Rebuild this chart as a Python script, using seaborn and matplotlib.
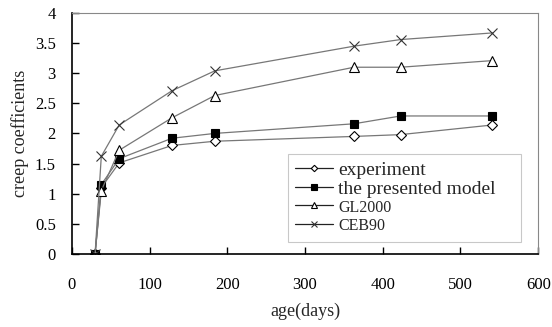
import seaborn as sns
import matplotlib.pyplot as plt
import pandas as pd

# ages (days) and creep coefficients
age = [30, 38, 61, 129, 184, 363, 423, 541]
experiment = [0, 1.10, 1.51, 1.80, 1.87, 1.95, 1.98, 2.14]
presented = [0, 1.15, 1.58, 1.92, 2.00, 2.16, 2.29, 2.29]
gl2000 = [0, 1.05, 1.72, 2.26, 2.63, 3.10, 3.10, 3.21]
ceb90 = [0, 1.62, 2.14, 2.71, 3.04, 3.45, 3.56, 3.67]

names = ["experiment", "the presented model", "GL2000", "CEB90"]
series = [experiment, presented, gl2000, ceb90]

rows = []
for n, vals in zip(names, series):
    for a, v in zip(age, vals):
        rows.append({"age": a, "creep": v, "model": n})
df = pd.DataFrame(rows)

sns.set_style("ticks")
plt.rcParams["font.family"] = ["Liberation Serif", "DejaVu Serif"]

fig = plt.figure(figsize=(5.52, 3.27), dpi=100)
ax = fig.add_axes([0.130, 0.224, 0.845, 0.736])

styles = {
    "experiment": dict(marker="D", markersize=5, markerfacecolor="white", markeredgecolor="black"),
    "the presented model": dict(marker="s", markersize=6, markerfacecolor="black", markeredgecolor="black"),
    "GL2000": dict(marker="^", markersize=7, markerfacecolor="white", markeredgecolor="black"),
    "CEB90": dict(marker="x", markersize=7, markeredgecolor="#333333"),
}

for n in names:
    sub = df[df["model"] == n]
    sns.lineplot(data=sub, x="age", y="creep", ax=ax, color="#777777", linewidth=0.9,
                 label=n, markeredgewidth=0.8, **styles[n])

ax.set_xlim(0, 600)
ax.set_ylim(0, 4)
ax.set_xticks(range(0, 601, 100))
ax.set_yticks([0, 0.5, 1, 1.5, 2, 2.5, 3, 3.5, 4])
ax.set_yticklabels(["0", "0.5", "1", "1.5", "2", "2.5", "3", "3.5", "4"])
ax.tick_params(direction="in", length=5, width=1, labelsize=12, colors="black")
ax.tick_params(axis="x", pad=17)
ax.tick_params(axis="y", pad=11.5)
ax.set_xlabel("age(days)", fontsize=13, labelpad=7)
ax.set_ylabel("creep coefficients", fontsize=13, labelpad=4)

for s in ["left", "bottom"]:
    ax.spines[s].set_color("black")
    ax.spines[s].set_linewidth(1.2)
for s in ["top", "right"]:
    ax.spines[s].set_visible(True)
    ax.spines[s].set_color("#888888")
    ax.spines[s].set_linewidth(0.8)

leg = ax.legend(loc="lower left", bbox_to_anchor=(0.4635, 0.05, 0.5, 0.374),
                mode="expand", borderaxespad=0,
                fontsize=14, frameon=True, fancybox=False, edgecolor="#bbbbbb",
                handlelength=1.95, handletextpad=0.25, labelspacing=0.04,
                borderpad=0.38, markerscale=0.65)
leg.get_frame().set_linewidth(0.8)
for line in leg.get_lines():
    line.set_color("#222222")
for t in leg.get_texts()[2:]:
    t.set_fontsize(11.5)

fig.savefig("out.png", dpi=100)
